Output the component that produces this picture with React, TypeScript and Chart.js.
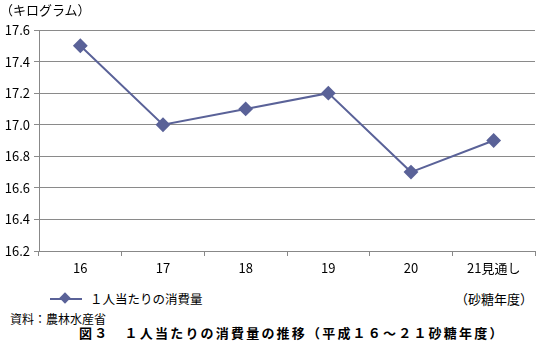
import React, { useEffect, useRef } from "react";
import { Chart, registerables } from "chart.js";

Chart.register(...registerables);

const categories = ["16", "17", "18", "19", "20", "21見通し"];
const consumption = [17.5, 17.0, 17.1, 17.2, 16.7, 16.9];
const seriesName = "１人当たりの消費量";
const yMin = 16.2;
const yMax = 17.6;
const yStep = 0.2;

const FONT = "'Noto Sans CJK JP', 'DejaVu Sans', sans-serif";
const LINE = "#5a6298";

export default function App() {
  const ref = useRef<HTMLCanvasElement | null>(null);
  useEffect(() => {
    document.body.style.margin = "0";
    const ctx = ref.current!;
    const chart = new Chart(ctx, {
      type: "line",
      data: {
        labels: categories,
        datasets: [
          {
            label: seriesName,
            data: consumption,
            borderColor: LINE,
            backgroundColor: LINE,
            borderWidth: 2,
            pointStyle: "rectRot",
            pointRadius: 6,
            pointHoverRadius: 6,
            tension: 0,
          },
        ],
      },
      options: {
        animation: false,
        responsive: false,
        devicePixelRatio: 1,
        layout: { padding: { left: 0, right: 8, top: 30, bottom: 0 } },
        plugins: { legend: { display: false }, tooltip: { enabled: false } },
        scales: {
          x: {
            offset: true,
            grid: {
              offset: true,
              drawOnChartArea: false,
              drawTicks: true,
              tickLength: 5,
              color: "#888",
            },
            border: { color: "#888" },
            ticks: { color: "#000", font: { family: FONT, size: 13 }, padding: 4 },
            afterFit: (s: any) => {
              s.height = 29;
            },
          },
          y: {
            min: yMin,
            max: yMax,
            ticks: {
              stepSize: yStep,
              color: "#000",
              font: { family: FONT, size: 13 },
              padding: 4,
              callback: (v: any) => Number(v).toFixed(1),
            },
            grid: { color: "#8a8a8a", tickLength: 5, drawTicks: true },
            border: { color: "#888" },
            afterFit: (s: any) => {
              s.width = 39;
            },
          },
        },
      },
    });
    return () => chart.destroy();
  }, []);

  const text: React.CSSProperties = {
    position: "absolute",
    fontFamily: FONT,
    fontSize: 12,
    color: "#000",
    whiteSpace: "nowrap",
    lineHeight: "14px",
  };

  return (
    <div style={{ position: "relative", width: 543, height: 353, background: "#fff" }}>
      <canvas ref={ref} width={543} height={280} style={{ position: "absolute", left: 0, top: 0 }} />
      <div style={{ ...text, left: 0, top: 3, fontSize: 13 }}>（キログラム）</div>
      <div style={{ position: "absolute", left: 50, top: 298, width: 32, height: 2, background: LINE }} />
      <div
        style={{
          position: "absolute",
          left: 61,
          top: 294,
          width: 8,
          height: 8,
          background: LINE,
          transform: "rotate(45deg)",
        }}
      />
      <div style={{ ...text, left: 90, top: 292, fontSize: 12.5 }}>{seriesName}</div>
      <div style={{ ...text, left: 455, top: 292, fontSize: 13 }}>（砂糖年度）</div>
      <div style={{ ...text, left: 10, top: 312 }}>資料：農林水産省</div>
      <div style={{ ...text, left: 79, top: 326, fontSize: 13, fontWeight: "bold", letterSpacing: "2.2px" }}>
        図３　１人当たりの消費量の推移（平成１６～２１砂糖年度）
      </div>
    </div>
  );
}
